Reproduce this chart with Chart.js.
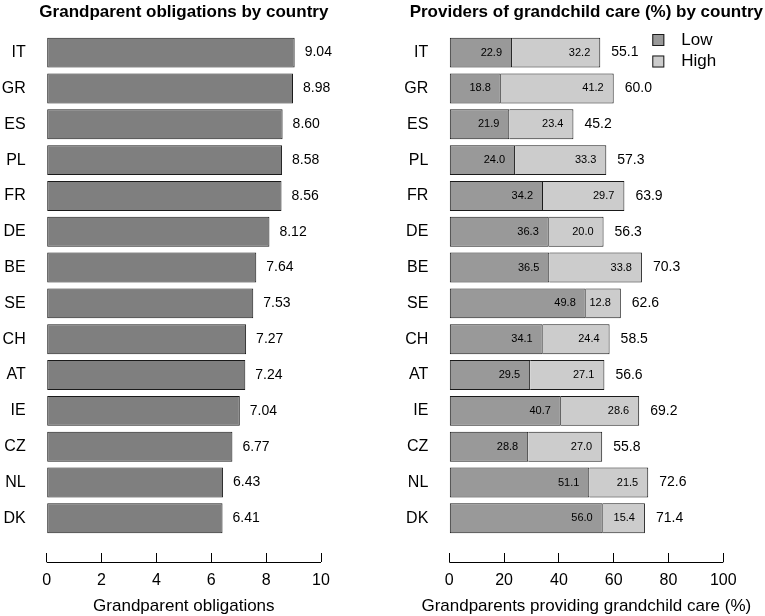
<!DOCTYPE html>
<html>
<head>
<meta charset="utf-8">
<script src="https://cdn.jsdelivr.net/npm/chart.js@4.4.0/dist/chart.umd.min.js"></script>
<style>
  html, body { margin: 0; padding: 0; background: #fff; }
  #wrap { position: relative; width: 765px; height: 616px; }
  .panel { position: absolute; top: 0; height: 616px; }
  #left { left: 0; width: 382px; }
  #right { left: 382px; width: 383px; }
</style>
</head>
<body>
<div id="wrap">
  <div class="panel" id="left"><canvas id="obligChart" width="382" height="616"></canvas></div>
  <div class="panel" id="right"><canvas id="careChart" width="383" height="616"></canvas></div>
</div>
<script>
// --- data ---
const countries   = ['IT', 'GR', 'ES', 'PL', 'FR', 'DE', 'BE', 'SE', 'CH', 'AT', 'IE', 'CZ', 'NL', 'DK'];
const obligations = [9.04, 8.98, 8.60, 8.58, 8.56, 8.12, 7.64, 7.53, 7.27, 7.24, 7.04, 6.77, 6.43, 6.41];
const careLow     = [22.9, 18.8, 21.9, 24.0, 34.2, 36.3, 36.5, 49.8, 34.1, 29.5, 40.7, 28.8, 51.1, 56.0];
const careHigh    = [32.2, 41.2, 23.4, 33.3, 29.7, 20.0, 33.8, 12.8, 24.4, 27.1, 28.6, 27.0, 21.5, 15.4];
const careTotal   = [55.1, 60.0, 45.2, 57.3, 63.9, 56.3, 70.3, 62.6, 58.5, 56.6, 69.2, 55.8, 72.6, 71.4];
const obligTicks  = [0, 2, 4, 6, 8, 10];
const careTicks   = [0, 20, 40, 60, 80, 100];

const FONT = "'Liberation Sans', Arial, Helvetica, sans-serif";
Chart.defaults.font.family = FONT;
Chart.defaults.color = '#000';

const TICK_LEN = 9;
const AREA_TOP = 30;      // top of plotting region
const AREA_BOTTOM = 553;  // where the tick marks start
const Y_MIN = -0.632, Y_MAX = 13.968;

// axis line, titles and text labels drawn on top (R-style panel)
const rPanel = {
    id: 'rPanel',
    afterDraw(chart, args, opts) {
        const ctx = chart.ctx;
        const area = chart.chartArea;
        const xs = chart.scales.x;
        const midX = (area.left + area.right) / 2;
        ctx.save();
        // horizontal axis line under the ticks
        ctx.strokeStyle = '#000';
        ctx.lineWidth = 1;
        const yLine = Math.round(area.bottom + TICK_LEN) + 0.5;
        ctx.beginPath();
        ctx.moveTo(xs.getPixelForValue(opts.ticks[0]), yLine);
        ctx.lineTo(xs.getPixelForValue(opts.ticks[opts.ticks.length - 1]), yLine);
        ctx.stroke();
        // panel title + axis title
        ctx.fillStyle = '#000';
        ctx.textAlign = 'center';
        ctx.textBaseline = 'middle';
        ctx.font = 'bold 17px ' + FONT;
        ctx.fillText(opts.title, midX, 12);
        ctx.font = '17px ' + FONT;
        ctx.fillText(opts.axisTitle, midX, 606);
        opts.labels(chart, ctx);
        ctx.restore();
    }
};

function yAxis(labelWidth) {
    return {
        type: 'linear',
        reverse: true,
        offset: false,
        min: Y_MIN,
        max: Y_MAX,
        stacked: true,
        grid: { display: false, drawTicks: false, offset: false },
        border: { display: false },
        afterBuildTicks: s => { s.ticks = countries.map((c, i) => ({ value: i })); },
        afterFit: s => { s.width = labelWidth; s.paddingTop = 0; s.paddingBottom = 0; },
        ticks: { callback: v => countries[v], font: { size: 16 }, padding: 21, color: '#000' }
    };
}

function xAxis(ticks) {
    return {
        type: 'linear',
        min: ticks[0],
        max: ticks[ticks.length - 1],
        stacked: true,
        afterBuildTicks: s => { s.ticks = ticks.map(v => ({ value: v })); },
        afterFit: s => { s.height = 616 - AREA_BOTTOM; },
        grid: { drawOnChartArea: false, drawTicks: true, tickLength: TICK_LEN, color: '#000' },
        border: { display: false },
        ticks: { font: { size: 16 }, padding: 9, color: '#000', maxRotation: 0, autoSkip: false }
    };
}

const barStyle = {
    borderColor: '#1a1a1a',
    borderWidth: 1,
    borderSkipped: false,
    categoryPercentage: 1,
    barPercentage: 0.835
};

// --- left panel ---
new Chart(document.getElementById('obligChart'), {
    type: 'bar',
    data: {
        datasets: [{
            label: 'Grandparent obligations',
            data: countries.map((c, i) => ({ x: obligations[i], y: i })),
            backgroundColor: '#7f7f7f',
            ...barStyle
        }]
    },
    options: {
        indexAxis: 'y',
        responsive: false,
        animation: false,
        layout: { padding: { top: AREA_TOP, right: 61, left: 0, bottom: 0 } },
        scales: { x: xAxis(obligTicks), y: yAxis(46.7) },
        plugins: {
            legend: { display: false },
            tooltip: { enabled: false },
            rPanel: {
                title: 'Grandparent obligations by country',
                axisTitle: 'Grandparent obligations',
                ticks: obligTicks,
                labels(chart, ctx) {
                    const meta = chart.getDatasetMeta(0);
                    ctx.font = '14px ' + FONT;
                    ctx.textAlign = 'left';
                    meta.data.forEach((bar, i) => ctx.fillText(obligations[i].toFixed(2), bar.x + 10, bar.y));
                }
            }
        }
    },
    plugins: [rPanel]
});

// --- right panel ---
new Chart(document.getElementById('careChart'), {
    type: 'bar',
    data: {
        datasets: [{
            label: 'Low',
            data: countries.map((c, i) => ({ x: careLow[i], y: i })),
            backgroundColor: '#999999',
            ...barStyle
        }, {
            label: 'High',
            data: countries.map((c, i) => ({ x: careHigh[i], y: i })),
            backgroundColor: '#cccccc',
            ...barStyle,
            borderSkipped: 'start'
        }]
    },
    options: {
        indexAxis: 'y',
        responsive: false,
        animation: false,
        layout: { padding: { top: AREA_TOP, right: 41.7, left: 0, bottom: 0 } },
        scales: { x: xAxis(careTicks), y: yAxis(67.3) },
        plugins: {
            legend: { display: false },
            tooltip: { enabled: false },
            rPanel: {
                title: 'Providers of grandchild care (%) by country',
                axisTitle: 'Grandparents providing grandchild care (%)',
                ticks: careTicks,
                labels(chart, ctx) {
                    const low = chart.getDatasetMeta(0).data;
                    const high = chart.getDatasetMeta(1).data;
                    ctx.font = '11px ' + FONT;
                    ctx.textAlign = 'right';
                    low.forEach((bar, i) => ctx.fillText(careLow[i].toFixed(1), bar.x - 10, bar.y));
                    high.forEach((bar, i) => ctx.fillText(careHigh[i].toFixed(1), bar.x - 10, bar.y));
                    ctx.font = '14px ' + FONT;
                    ctx.textAlign = 'left';
                    high.forEach((bar, i) => ctx.fillText(careTotal[i].toFixed(1), bar.x + 11, bar.y));

                    // legend (top right)
                    const ds = chart.data.datasets;
                    const lx = chart.chartArea.right - 71;
                    ctx.font = '17px ' + FONT;
                    ds.forEach((d, k) => {
                        const cy = 40 + k * 21.5;
                        ctx.fillStyle = d.backgroundColor;
                        ctx.fillRect(lx, cy - 6, 12, 12);
                        ctx.strokeStyle = '#1a1a1a';
                        ctx.strokeRect(lx + 0.5, cy - 5.5, 11, 11);
                        ctx.fillStyle = '#000';
                        ctx.fillText(d.label, lx + 29, cy);
                    });
                }
            }
        }
    },
    plugins: [rPanel]
});
</script>
</body>
</html>
